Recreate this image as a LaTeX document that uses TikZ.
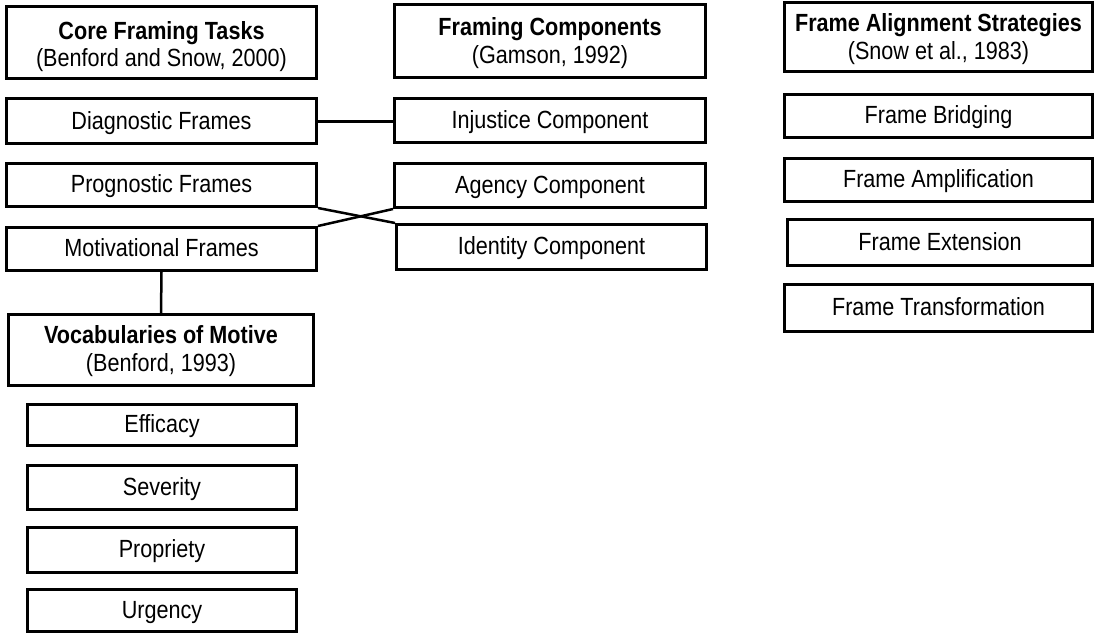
\documentclass[tikz,border=0pt]{standalone}
\usepackage{fontspec}
\usepackage{graphicx}
\setmainfont{Liberation Sans}
\newcommand{\boxtxt}[2][2]{\raisebox{-#1pt}[\height][\depth]{\scalebox{1}[1.15]{\begin{tabular}{@{}c@{}}#2\end{tabular}}}}
\begin{document}
\begin{tikzpicture}[x=1pt,y=-1pt,
  box/.style={draw=black,line width=3pt,fill=white,inner sep=0pt,align=center,
    font=\fontsize{21.6}{24}\selectfont},
  link/.style={draw=black,line width=2.5pt}]
\useasboundingbox[fill=white] (0,0) rectangle (1098,636);
% column 1
\node[box,minimum width=310,minimum height=72] (core) at (161.5,42.5) {\boxtxt[5]{\textbf{Core Framing Tasks}\\(Benford and Snow, 2000)}};
\node[box,minimum width=310,minimum height=45] (diag) at (161.5,121.5) {\boxtxt{Diagnostic Frames}};
\node[box,minimum width=310,minimum height=43] (prog) at (161.5,185) {\boxtxt{Prognostic Frames}};
\node[box,minimum width=310,minimum height=43] (motiv) at (161.5,249) {\boxtxt{Motivational Frames}};
\node[box,minimum width=305,minimum height=71] (vocab) at (161,350) {\boxtxt[2]{\textbf{Vocabularies of Motive}\\(Benford, 1993)}};
\node[box,minimum width=269,minimum height=41] (eff) at (162,425) {\boxtxt{Efficacy}};
\node[box,minimum width=269,minimum height=44] (sev) at (162,487.5) {\boxtxt{Severity}};
\node[box,minimum width=269,minimum height=45] (prop) at (162,550) {\boxtxt{Propriety}};
\node[box,minimum width=269,minimum height=42] (urg) at (162,610.5) {\boxtxt{Urgency}};
% column 2
\node[box,minimum width=311,minimum height=73] (fc) at (550,41) {\boxtxt[3]{\textbf{Framing Components}\\(Gamson, 1992)}};
\node[box,minimum width=311,minimum height=44] (inj) at (550,121) {\boxtxt{Injustice Component}};
\node[box,minimum width=311,minimum height=44] (agn) at (550,185.5) {\boxtxt{Agency Component}};
\node[box,minimum width=310,minimum height=45] (idt) at (551.5,247) {\boxtxt{Identity Component}};
% column 3
\node[box,minimum width=308,minimum height=69] (fas) at (938.5,37.5) {\boxtxt[2.5]{\textbf{Frame Alignment Strategies}\\(Snow et al., 1983)}};
\node[box,minimum width=308,minimum height=43] (fb) at (938.5,116) {\boxtxt{Frame Bridging}};
\node[box,minimum width=308,minimum height=43] (fa) at (938.5,180) {\boxtxt{Frame Amplification}};
\node[box,minimum width=305,minimum height=46] (fe) at (940,242.5) {\boxtxt{Frame Extension}};
\node[box,minimum width=308,minimum height=47] (ft) at (938.5,308) {\boxtxt{Frame Transformation}};
% connectors
\draw[link] (diag.east) -- (inj.west |- diag.east);
\draw[link] (prog.south east) -- (idt.north west);
\draw[link] (motiv.north east) -- (agn.south west);
\draw[link] (motiv.south) -- (vocab.north);
\end{tikzpicture}
\end{document}
